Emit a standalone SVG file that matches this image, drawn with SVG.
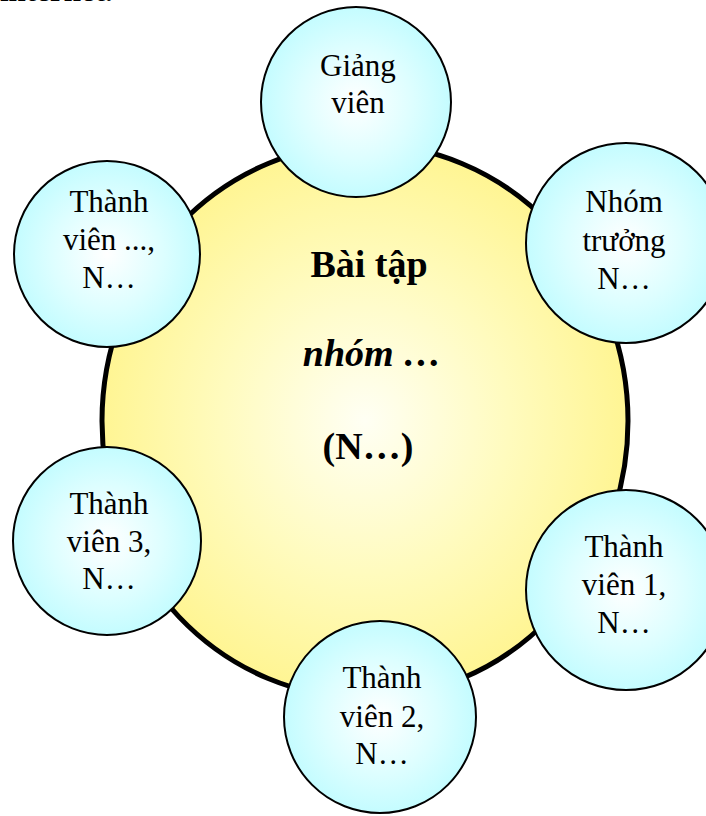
<svg xmlns="http://www.w3.org/2000/svg" width="706" height="816" viewBox="0 0 706 816">
<defs>
<radialGradient id="gBig" cx="0.5" cy="0.5" r="0.5">
<stop offset="0" stop-color="#FFFFF4"/>
<stop offset="0.55" stop-color="#FFFBBE"/>
<stop offset="1" stop-color="#FFF593"/>
</radialGradient>
<radialGradient id="gSmall" cx="0.5" cy="0.5" r="0.5">
<stop offset="0" stop-color="#FFFFFF"/>
<stop offset="0.6" stop-color="#DDFEFF"/>
<stop offset="1" stop-color="#C4FCFF"/>
</radialGradient>
<style>
.small{fill:url(#gSmall);stroke:#000;stroke-width:2}
.lbl{font-family:"Liberation Serif","Times New Roman",serif;font-size:31px;fill:#000;text-anchor:middle}
.ctr{font-family:"Liberation Serif","Times New Roman",serif;font-size:38px;font-weight:bold;fill:#000;text-anchor:middle}
</style>
</defs>
<rect width="706" height="816" fill="#fff"/>
<text x="0" y="1" style="font-family:'Liberation Serif',serif;font-size:31px;font-weight:bold">internet.</text>
<g id="connectors"></g>
<g id="center">
<ellipse cx="365" cy="421" rx="263" ry="277" fill="url(#gBig)" stroke="#000" stroke-width="5"/>
<text class="ctr" x="369" y="277">Bài tập</text>
<text class="ctr" x="372" y="366" font-style="italic">nhóm …</text>
<text class="ctr" x="368" y="459">(N…)</text>
</g>
<g id="giangvien">
<circle class="small" cx="356" cy="102" r="95"/>
<text class="lbl" x="358" y="76">Giảng</text>
<text class="lbl" x="358" y="113">viên</text>
</g>
<g id="nhomtruong">
<circle class="small" cx="626" cy="243" r="100"/>
<text class="lbl" x="624" y="212">Nhóm</text>
<text class="lbl" x="624" y="251">trưởng</text>
<text class="lbl" x="624" y="289">N…</text>
</g>
<g id="thanhvien1">
<circle class="small" cx="626" cy="590" r="100"/>
<text class="lbl" x="624" y="557">Thành</text>
<text class="lbl" x="624" y="595">viên 1,</text>
<text class="lbl" x="624" y="633">N…</text>
</g>
<g id="thanhvien2">
<circle class="small" cx="380" cy="717" r="96"/>
<text class="lbl" x="382" y="688">Thành</text>
<text class="lbl" x="382" y="727">viên 2,</text>
<text class="lbl" x="382" y="764">N…</text>
</g>
<g id="thanhvien3">
<circle class="small" cx="107" cy="541" r="94"/>
<text class="lbl" x="109" y="514">Thành</text>
<text class="lbl" x="109" y="552">viên 3,</text>
<text class="lbl" x="109" y="589">N…</text>
</g>
<g id="thanhvienx">
<circle class="small" cx="107" cy="254" r="93"/>
<text class="lbl" x="109" y="212">Thành</text>
<text class="lbl" x="109" y="250">viên ...,</text>
<text class="lbl" x="109" y="288">N…</text>
</g>
</svg>
